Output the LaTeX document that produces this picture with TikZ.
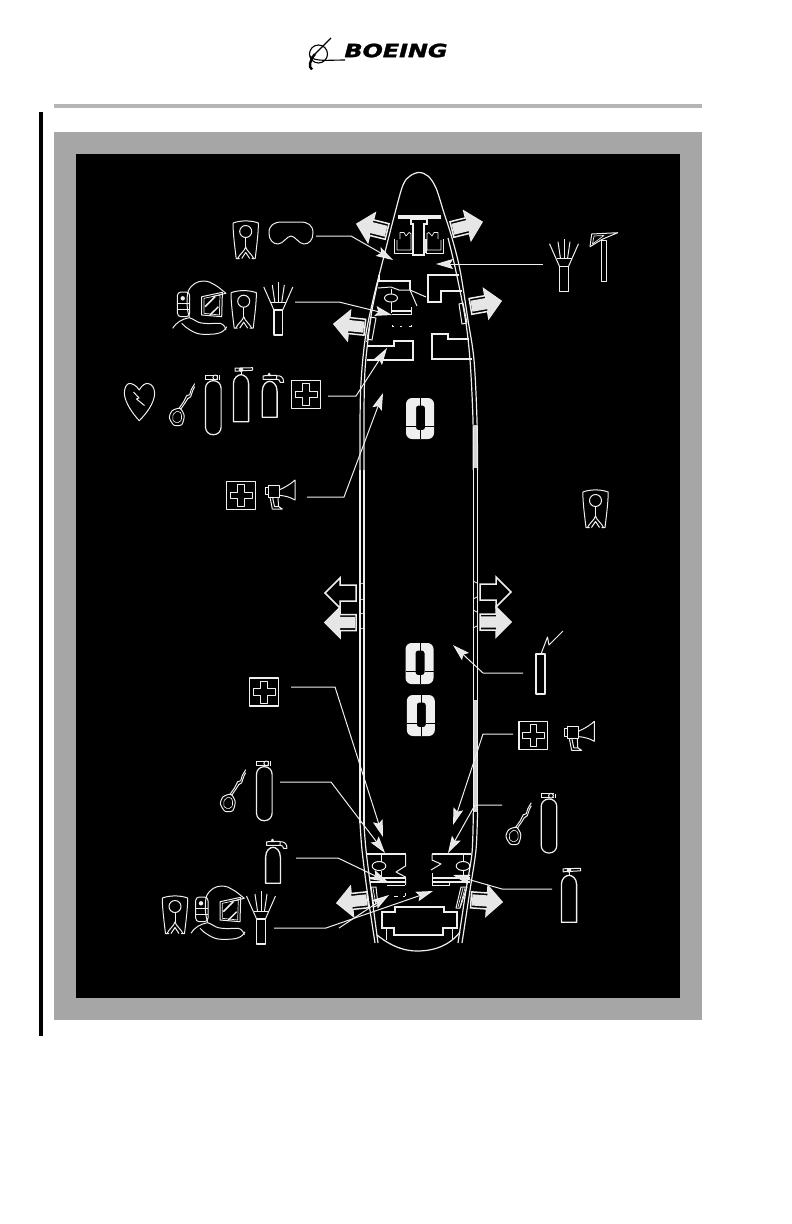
\documentclass[tikz,border=0pt]{standalone}
\usepackage{fontspec}
\usepackage{graphicx}
\setmainfont{Liberation Sans}
\newfontfamily\logofont[FakeBold=1.5]{DejaVu Sans}
\usetikzlibrary{arrows.meta}
\definecolor{lw}{HTML}{EFEFEF}
\definecolor{band}{HTML}{A6A6A6}
\definecolor{rulec}{HTML}{B5B5B5}
\definecolor{arrfill}{HTML}{E6E6E6}
\tikzset{
  wall/.style={draw=lw,line width=1.2pt},
  ico/.style={draw=lw,line width=1pt,line join=round},
  thin ico/.style={draw=lw,line width=.7pt,line join=round},
  cabin/.style={draw=lw,line width=1.5pt,line join=miter},
  heavy/.style={draw=lw,line width=2.2pt},
  leader/.style={draw=lw,line width=1pt,-{Stealth[length=17pt,width=10pt,inset=3pt,fill=arrfill]}},
  exitline/.style={draw=lw,line width=1.5pt,line join=miter},
  vestpic/.pic={
    \draw[ico] (-12.7,2) .. controls (-5,-.8) and (5,-.8) .. (12.7,2) .. controls (12.7,12) and (11,25) .. (9.5,37.5) -- (6,37.5);
    \draw[ico] (-12.7,2) .. controls (-12.7,12) and (-11,25) .. (-9.5,37.5) -- (-6,37.5);
    \draw[ico] (0,10.5) circle[radius=6pt];
    \draw[ico] (0,16.5) -- (0,27);
    \draw[ico] (-8,37.5) .. controls (-6,33) and (-1,30) .. (0,26) .. controls (1,30) and (6,33) .. (8,37.5);
    \draw[ico] (-4,37.5) -- (0,31.5) -- (4,37.5);
  },
  flashpic/.pic={
    \draw[ico,line width=1.2pt] (-4.4,0) rectangle (4.4,-25);
    \draw[ico] (-4.4,-25) -- (-14.5,-48);
    \draw[ico] (4.4,-25) -- (14.5,-48);
    \draw[ico] (-7.5,-33) -- (7.5,-33);
    \draw[ico] (-3.5,-33) -- (-6,-50);
    \draw[ico] (3.5,-33) -- (6,-50);
    \draw[ico] (0,-33) -- (0,-53);
  },
  hoodpic/.pic={
    \draw[ico] (16.7,35.7) .. controls (14,30) and (13.5,16) .. (15.7,9.7) .. controls (19,3) and (25,0) .. (30.7,0) .. controls (36,0) and (39,2) .. (42.3,4) .. controls (46,6) and (49,9) .. (53.3,12.3) -- (39,15.7);
    \draw[ico] (29,15.7) -- (49.7,11.3) -- (49,35.7) -- (29,34) -- cycle;
    \draw[thin ico] (31.3,17.3) -- (47.3,14) -- (46.7,34) -- (31.3,32.3) -- cycle;
    \draw[ico,line width=1.5pt] (32.3,25.7) -- (42.3,15.7);
    \draw[ico,line width=1.5pt] (37.3,34) -- (45.7,25.7);
    \draw[ico,rounded corners=3.5pt] (4.7,11) rectangle (17,35.7);
    \draw[ico] (4.7,22.3) -- (17,22.3);
    \draw[ico] (4.7,28) -- (17,28);
    \fill[lw] (10,17.3) circle[radius=2.2pt];
    \draw[ico] (0,47.3) .. controls (3,42) and (9,38) .. (16.7,36.7) .. controls (21,38) and (24,41) .. (27.3,41.7) .. controls (33,43) and (38,42.5) .. (44,42.3) .. controls (49,41.5) and (52,44) .. (53.3,49);
    \draw[ico] (9,42.3) .. controls (12,45) and (14,47.5) .. (17.3,49) .. controls (22,52) and (27,53.5) .. (30.7,53.3) .. controls (38,53.5) and (45,53) .. (47.3,51.7) .. controls (50,51) and (53,48) .. (54,45.7);
  },
  bottlepic/.pic={
    \draw[ico,rounded corners=7.5pt,line width=1.2pt] (-7.8,0) rectangle (7.8,54);
    \draw[ico] (-8,-5.3) -- (5,-5.3) (-8,-1.3) -- (5,-1.3) (-8,-5.3) -- (-8,-1.3);
    \draw[ico,fill=black] (2,-3.3) circle[radius=2.4pt];
    \draw[ico] (6,-5.5) -- (6,-1);
  },
  maskpic/.pic={
    \draw[ico] plot[smooth cycle,tension=.45] coordinates {(-7.3,1) (-4.5,-6) (3.3,-8.3) (7.5,-1) (5,8) (-2.7,8.5)};
    \draw[thin ico,line width=.6pt,rounded corners=2pt] (-4.6,1) -- (-2.5,-4.5) -- (3,-6) -- (5.5,0) -- (3.5,5.8) -- (-2.5,6) -- cycle;
    \draw[ico] (2,-8) -- (7,-15) -- (10,-21) -- (13,-22) -- (14.5,-27) -- (18,-33);
    \draw[ico] (4,-7.5) -- (8.5,-14) -- (11,-18) -- (14,-20) -- (16,-26) -- (18,-30);
  },
  extApic/.pic={
    \draw[ico,line width=1.3pt] (-7.6,0) -- (-7.6,-38) .. controls (-7.6,-44) and (-3,-47) .. (0,-47) .. controls (3,-47) and (7.6,-44) .. (7.6,-38) -- (7.6,0) -- cycle;
    \draw[ico] (-6,-50.5) -- (11.5,-51.5) -- (11.5,-54) -- (-6,-53.5) -- cycle;
    \fill[lw] (0,-52) circle[radius=2.3pt];
    \draw[ico] (0,-47) -- (0,-50);
  },
  extBpic/.pic={
    \draw[ico,line width=1.3pt] (-7.4,0) -- (-7.4,-26) .. controls (-7.4,-33) and (-3,-36) .. (0,-36) .. controls (3,-36) and (7.4,-33) .. (7.4,-26) -- (7.4,0) -- cycle;
    \draw[ico] (-6.5,-38) -- (7,-38) -- (7,-42) -- (-6.5,-41.5) -- cycle;
    \fill[lw] (-.5,-43) circle[radius=1.6pt];
    \draw[ico] (7,-41.5) .. controls (11,-42) and (14,-40) .. (14,-35) -- (10.5,-35) .. controls (10.5,-37) and (9,-38) .. (7,-38);
  },
  aidpic/.pic={
    \draw[ico,line width=1.4pt] (-14.3,-14) rectangle (14.3,14);
    \draw[ico] (-3.2,-11) -- (3.2,-11) -- (3.2,-3.2) -- (11,-3.2) -- (11,3.2) -- (3.2,3.2) -- (3.2,11) -- (-3.2,11) -- (-3.2,3.2) -- (-11,3.2) -- (-11,-3.2) -- (-3.2,-3.2) -- cycle;
  },
  hornpic/.pic={
    \draw[ico] (-11,-6.7) rectangle (0,5);
    \draw[ico] (-14,-5) rectangle (-11,2.7);
    \draw[ico] (0,-2) .. controls (7,-5) and (13,-9) .. (16,-12) -- (16,8) .. controls (11,5) and (6,3.8) .. (0,3.3);
    \draw[ico] (-9,5) -- (-6.7,17) -- (3.3,17) -- (-.5,14.5) -- (-1,5);
    \draw[ico] (-6.5,5) -- (-4.5,14.5) -- (-.5,14.5);
  },
  exitoutline/.pic={
    \draw[exitline] (0,0) -- (-15,-15) -- (-15,-8) -- (-31,-8) -- (-31,8) -- (-15,8) -- (-15,15) -- cycle;
  },
  exitfilled/.pic={
    \draw[exitline] (0,0) -- (-15,-15) -- (-15,-8) -- (-31,-8) -- (-31,8) -- (-15,8) -- (-15,15) -- cycle;
    \fill[arrfill] (0,0) -- (-15,-15) -- (-15,-5.6) -- (-30,-5.6) -- (-30,5.6) -- (-15,5.6) -- (-15,15) -- cycle;
  },
  opic/.pic={
    \fill[lw,even odd rule,rounded corners=6pt] (0,0) rectangle (28,41) [rounded corners=2.5pt] (10,7.5) rectangle (19,32);
    \draw[black,line width=.7pt] (0,\horizA) -- (10,\horizA) (19,\horizA) -- (28,\horizA) (14.5,0) -- (14.5,7.5) (14.5,32) -- (14.5,41);
  },
}
\def\horizA{28}
\begin{document}
\begin{tikzpicture}[x=1pt,y=-1pt]
\useasboundingbox (0,0) rectangle (792,1224);
% page
\fill[white] (0,0) rectangle (792,1224);
\fill[rulec] (54,104) rectangle (702,108);
\fill[black] (39,112) rectangle (43,1036);
\fill[band] (54,132) rectangle (702,1020);
\fill[black] (76,154) rectangle (680,998);
% logo
\node[inner sep=0pt,anchor=center,text=black] (logotext) at (396,50.5) {\resizebox{103pt}{13.5pt}{\logofont\bfseries\itshape BOEING}};
\draw[black,line width=1.1pt] (318.5,54) circle[radius=9pt];
\draw[black,line width=1.1pt] (331,38) -- (315,54);
\draw[black,line width=2.4pt] (315,54) .. controls (310,60) and (308,67) .. (312,69.5);
\draw[black,line width=1.1pt] (310,56) .. controls (314,62) and (328,60) .. (345,60);
% fuselage
\draw[band!50!white,line width=2.6pt] (475.4,700) -- (475.4,812);
\draw[band!50!white,line width=2.6pt] (475.4,425) -- (475.4,468);
\draw[wall] plot[smooth,tension=.55] coordinates {(360,470) (360.5,393) (365,340) (373,300) (383,260) (395,213) (403,185) (410,176) (419,172.5) (428,176) (436,188) (444,213) (452,238) (460,270) (468,320) (474,360) (477,420) (477.5,470)};
\draw[wall] (360,470) -- (360,823);
\draw[wall] (477.5,470) -- (477.5,813);
\draw[wall] plot[smooth,tension=.5] coordinates {(360,823) (362,850) (367,890) (375,943)};
\draw[wall] plot[smooth,tension=.5] coordinates {(477.5,813) (476,850) (470,890) (462,943)};
\draw[wall] plot[smooth,tension=.55] coordinates {(379,277) (372,310) (368,340) (365,370) (364,410) (364,470)};
\draw[wall] plot[smooth,tension=.55] coordinates {(448,238) (455,267) (465,317) (470,360) (473,420) (473.3,470)};
\draw[wall] (364,470) -- (364,825);
\draw[wall] (473.3,470) -- (473.3,813);
\draw[wall] plot[smooth,tension=.5] coordinates {(364,825) (366,850) (371,890) (378,943)};
\draw[wall] plot[smooth,tension=.5] coordinates {(473.3,813) (472,853) (466,890) (458,943)};
\draw[wall] (377,935) .. controls (392,947) and (405,951) .. (417,951) .. controls (435,951) and (450,945) .. (460,932);
% door ticks
\draw[thin ico] (360,584) -- (364,583) (360,600) -- (364,599) (360,614) -- (364,613) (360,629) -- (364,628);
\draw[thin ico] (473,581) -- (477,583) (473,599) -- (477,597) (473,610) -- (477,612) (473,628) -- (477,626);
% cockpit
\fill[lw] (398,215) rectangle (441,219);
\draw[wall] (411,219) -- (427,219) -- (427,224) -- (424,224) -- (424,255) -- (413,255) -- (413,224) -- (411,224) -- cycle;
\fill[arrfill] (424,239) rectangle (427,253);
\draw[thin ico] (394.5,239) -- (394.5,253) -- (412,253) -- (412,239);
\draw[thin ico] (400,239) -- (400,232.5) -- (404,232.5) -- (406,236) -- (409,232.5) -- (411,233.5) -- (411,250) -- (397,250) -- (397,240);
\draw[thin ico] (443,239) -- (443,253) -- (426,253) -- (426,239);
\draw[thin ico] (438,239) -- (438,232.5) -- (434,232.5) -- (432,236) -- (429,232.5) -- (427,233.5) -- (427,250) -- (441,250) -- (441,240);
% forward left lav
\draw[cabin,line width=1.3pt] (379,275) -- (379,281) -- (410,281) -- (410,290);
\draw[thin ico,line width=1pt] (378,288) -- (391,287) -- (399,290) -- (410,290);
\draw[thin ico,line width=1pt] (410,290) -- (426,297);
\draw[thin ico,line width=1pt] (410,290) -- (417,306);
\draw[ico] (391,298) ellipse[x radius=6.5pt,y radius=4pt];
\draw[thin ico] (391,289) -- (391,294) (391,302) -- (391,313);
\draw[cabin,line width=1.3pt] (392,311) -- (411,311) (392,314.5) -- (411,314.5);
\draw[thin ico] (411,307) -- (411,315);
\draw[thin ico,line width=1pt] (392,326) -- (394,326) (400,326) -- (402,326) (409,326) -- (411,326) (392,325) -- (392,327) (411,325) -- (411,327);
% forward right galley
\draw[cabin] (459,275) -- (428,275) -- (428,302) -- (441,302) -- (441,291) -- (462,291);
\draw[thin ico,line width=1pt] (459,304) -- (463,303) -- (467,323) -- (462,324) -- cycle;
\draw[cabin] (469,339) -- (448,339) -- (448,334) -- (432,334) -- (432,359) -- (472,359);
\draw[cabin] (368,346) -- (394,346) -- (394,341) -- (413,341) -- (413,360) -- (367,360);
\draw[thin ico,line width=1pt] (371,317) -- (376,318) -- (372,340) -- (367,339) -- cycle;
\draw[thin ico] (368,339) -- (366,342);
% aft left lav
\draw[heavy] (367,854) -- (406,854);
\draw[thin ico,line width=1pt] (405.5,854) -- (405.5,866) -- (396,872) -- (405.5,877) -- (405.5,885);
\draw[ico] (379,866) ellipse[x radius=6.8pt,y radius=4.5pt];
\draw[thin ico] (381,855) -- (381,861.5) (381,870.5) -- (381,877);
\draw[cabin,line width=1.3pt] (370,878) -- (405,878) (370,882) -- (405,882);
\draw[thin ico] (387,885) -- (405,885);
\draw[thin ico] (394,896) -- (398,896) (403,896) -- (405,896) (405,893) -- (405,896);
% aft right lav
\draw[heavy] (432,854) -- (471,854);
\draw[thin ico,line width=1pt] (432,854) -- (432,860) -- (441,864) -- (431,870);
\draw[thin ico,line width=1pt] (432,873) -- (432,885);
\draw[ico] (463,866) ellipse[x radius=6.8pt,y radius=4.5pt];
\draw[thin ico] (463,855) -- (463,861.5) (463,870.5) -- (463,877);
\draw[cabin,line width=1.3pt] (432,878) -- (470,878) (432,882) -- (470,882);
\draw[thin ico] (432,885) -- (449,885) -- (449,883);
% aft slides
\draw[thin ico,line width=1pt] (371,887) -- (376,887) -- (378,905) -- (374,907) -- cycle;
\draw[thin ico] (373,888) -- (376,905);
\draw[thin ico,line width=1pt] (461,887) -- (467,887) -- (460,908) -- (456,908) -- cycle;
\draw[thin ico] (463,888) -- (458,907) (465,888) -- (460,907);
% aft galley
\draw[cabin] (382,912) -- (395,912) -- (395,907) -- (444,907) -- (444,912) -- (457,912) -- (457,928) -- (443,928) -- (443,935) -- (394,935) -- (394,928) -- (382,928) -- cycle;
\draw[thin ico,line width=1pt] (386,928) -- (386,940) (452,928) -- (452,940);
% slide symbols
\pic at (406,398) {opic};
\pic at (405.5,643) {opic};
\pic at (406.8,695) {opic};
% exit arrows
\pic[rotate=166] at (357,224) {exitfilled};
\pic[rotate=14] at (482,222) {exitfilled};
\pic[rotate=174] at (334,324) {exitfilled};
\pic[rotate=10] at (501,301) {exitfilled};
\pic[rotate=180] at (325,593) {exitoutline};
\pic[rotate=180] at (325,622.5) {exitfilled};
\pic at (511,592) {exitoutline};
\pic at (511,622) {exitfilled};
\pic[rotate=186] at (337,903) {exitfilled};
\pic[rotate=-4] at (502,902) {exitfilled};
% equipment: forward
\pic at (245.7,221) {vestpic};
\draw[ico] (269,233) .. controls (269,225) and (274,222) .. (282,222) -- (300,222) .. controls (308,222) and (313,225) .. (313,233) .. controls (313,240) and (309,244) .. (304,244) .. controls (299,244) and (295,236) .. (291,236) .. controls (287,236) and (283,244) .. (278,244) .. controls (273,244) and (269,240) .. (269,233) -- cycle;
\pic at (172.7,281) {hoodpic};
\pic at (243.7,290.7) {vestpic};
\pic at (278.3,335) {flashpic};
\pic at (564,291.7) {flashpic};
% axe
\draw[ico] (601,240) -- (606,240) -- (606,281) -- (601,281) -- cycle;
\draw[ico] (590,246.7) -- (591.7,234) -- (617.7,232.7) -- (604,238.5) -- (601,240) -- cycle;
\draw[thin ico] (592.5,244) -- (594,236) -- (604,235.5) -- cycle;
% heart
\draw[ico] (139.3,390) .. controls (136,385) and (132,383.3) .. (129,383.5) .. controls (126.5,384) and (124.3,388) .. (124.3,393.5) .. controls (125,403) and (133,414) .. (139.3,420.7) .. controls (146,414) and (154.5,403) .. (154.6,393.5) .. controls (154.6,388) and (152,384) .. (148,383.5) .. controls (145,383.3) and (142,385) .. (139.3,390);
\draw[thin ico,line width=1pt] (133.5,392) -- (139,398) -- (136.5,399) -- (144.5,405.5);
\pic at (176.7,416.7) {maskpic};
\pic at (213.3,380.7) {bottlepic};
\pic at (241,421.7) {extApic};
\pic at (269.7,417.3) {extBpic};
\pic at (306,394.7) {aidpic};
\pic at (241,495.5) {aidpic};
\pic at (279,492) {hornpic};
\pic at (595.5,490) {vestpic};
% ELT
\draw[ico,line width=1.2pt] (536,654) rectangle (545,694);
\draw[ico] (541,654) -- (547.5,637) -- (549,645) -- (563,631);
% equipment: aft
\pic at (264,692) {aidpic};
\pic at (227.7,802.7) {maskpic};
\pic at (264.3,766.7) {bottlepic};
\pic at (273,883.3) {extBpic};
\pic at (175,896) {vestpic};
\pic at (191,886) {hoodpic};
\pic at (261,944) {flashpic};
\pic at (533.3,735.7) {aidpic};
\pic at (578.3,733.3) {hornpic};
\pic at (513.3,835.7) {maskpic};
\pic at (549,799) {bottlepic};
\pic at (569,922.3) {extApic};
% connector ends
\coordinate (gogg) at (316,236);
\coordinate (goggT) at (393,260);
\coordinate (fwdR) at (543,264);
\coordinate (fwdRT) at (436,264);
\coordinate (fwdL) at (295,302);
\coordinate (fwdLT) at (392,315);
\coordinate (aidF) at (328,396);
\coordinate (aidFT) at (387,348);
\coordinate (aidH) at (307,497);
\coordinate (aidHT) at (383,393);
\coordinate (elt) at (523,673);
\coordinate (eltT) at (453,645);
\coordinate (aidA) at (291,687);
\coordinate (aidAT) at (383,837);
\coordinate (oxL) at (280,782);
\coordinate (oxLT) at (385,853);
\coordinate (extL) at (296,858);
\coordinate (extLT) at (388,882);
\coordinate (flA) at (274,928);
\coordinate (flAT) at (433,891);
\coordinate (flB) at (339,928);
\coordinate (flBT) at (389,895);
\coordinate (aidR) at (513,734);
\coordinate (aidRT) at (453,825);
\coordinate (oxR) at (502,805);
\coordinate (oxRT) at (448,853);
\coordinate (extR) at (552,889);
\coordinate (extRT) at (453,875);
% connectors
\draw[leader] (gogg) -- (351,236) -- (goggT);
\draw[leader] (fwdR) -- (fwdRT);
\draw[leader] (fwdL) -- (339,302) -- (fwdLT);
\draw[leader] (aidF) -- (356,396) -- (aidFT);
\draw[leader] (aidH) -- (344,497) -- (aidHT);
\draw[leader] (elt) -- (483,673) -- (eltT);
\draw[leader] (aidA) -- (335,687) -- (aidAT);
\draw[leader] (oxL) -- (331,782) -- (oxLT);
\draw[leader] (extL) -- (338,858) -- (extLT);
\draw[leader] (flA) -- (326,928) -- (flAT);
\draw[leader] (flB) -- (flBT);
\draw[leader] (aidR) -- (483,734) -- (aidRT);
\draw[leader] (oxR) -- (475,805) -- (oxRT);
\draw[leader] (extR) -- (502,889) -- (extRT);
\end{tikzpicture}
\end{document}
